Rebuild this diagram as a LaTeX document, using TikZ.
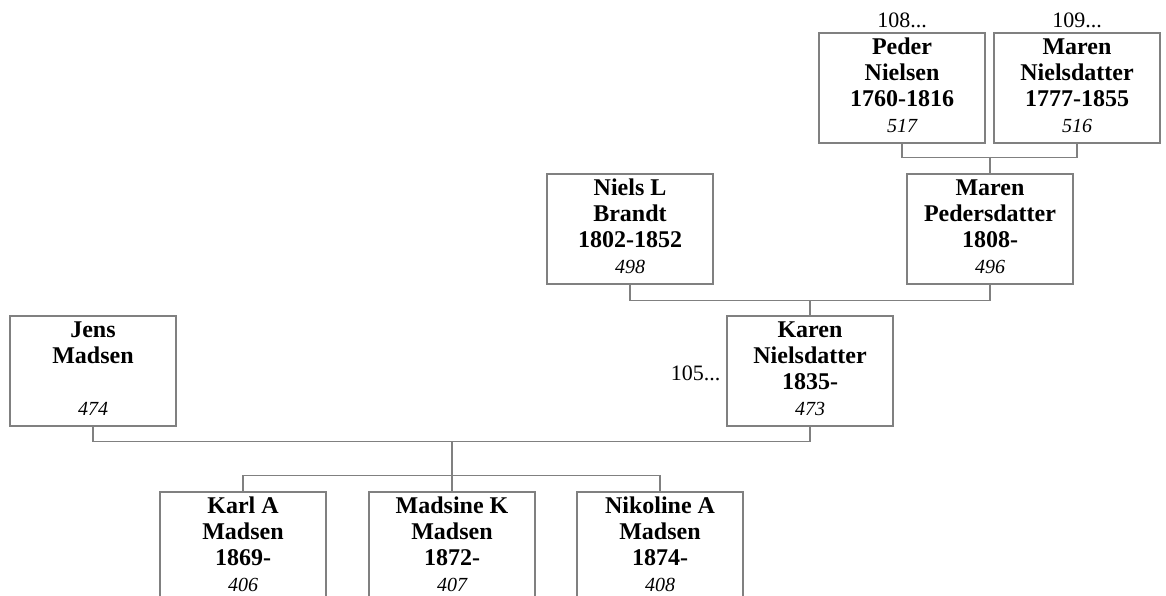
\documentclass[tikz,border=0pt]{standalone}
\usepackage{fontspec}
\setmainfont{Liberation Serif}
\begin{document}
\begin{tikzpicture}[x=1pt,y=-1pt,
  pbox/.style={draw=black!50,line width=1.1pt,minimum width=166pt,minimum height=110pt,inner sep=0pt,fill=white},
  conn/.style={draw=black!50,line width=1.1pt},
  bl/.style={font=\fontsize{24}{26}\selectfont\bfseries,inner sep=0pt,anchor=base},
  nm/.style={font=\fontsize{20}{22}\selectfont\itshape,inner sep=0pt,anchor=base},
  ref/.style={font=\fontsize{22}{24}\selectfont,inner sep=0pt}]
\useasboundingbox (0,0) rectangle (1166,596);
\clip (0,0) rectangle (1166,596);
\newcommand\personbox[6]{%
  \node[pbox] (#1) at (#2) {};
  \node[bl] (#1-a) at ([yshift=-22pt]#1.north) {#3};
  \node[bl] (#1-b) at ([yshift=-48pt]#1.north) {#4};
  \node[bl] (#1-c) at ([yshift=-74pt]#1.north) {#5};
  \node[nm] (#1-d) at ([yshift=-100pt]#1.north) {#6};
}
% boxes
\personbox{peder}{902,88}{Peder}{Nielsen}{1760-1816}{517}
\personbox{marenN}{1077,88}{Maren}{Nielsdatter}{1777-1855}{516}
\personbox{niels}{630,229}{Niels L}{Brandt}{1802-1852}{498}
\personbox{marenP}{990,229}{Maren}{Pedersdatter}{1808-}{496}
\node[pbox] (jens) at (93,371) {};
\node[bl] (jens-a) at ([yshift=-22pt]jens.north) {Jens};
\node[bl] (jens-b) at ([yshift=-48pt]jens.north) {Madsen};
\node[nm] (jens-d) at ([yshift=-100pt]jens.north) {474};
\personbox{karen}{810,371}{Karen}{Nielsdatter}{1835-}{473}
\personbox{karl}{243,547}{Karl A}{Madsen}{1869-}{406}
\personbox{madsine}{452,547}{Madsine K}{Madsen}{1872-}{407}
\personbox{nikoline}{660,547}{Nikoline A}{Madsen}{1874-}{408}
% reference labels
\node[ref,anchor=base] (r108) at ([yshift=5pt]peder.north) {108...};
\node[ref,anchor=base] (r109) at ([yshift=5pt]marenN.north) {109...};
\node[ref,anchor=east] (r105) at ([xshift=-6pt,yshift=-2pt]karen.west) {105...};
% connectors
\draw[conn] (peder.south) -- ++(0,14) -| (marenN.south);
\coordinate (f1) at (990,157);
\draw[conn] (f1) -- (marenP.north);
\draw[conn] (niels.south) -- ++(0,16) -| (marenP.south);
\coordinate (f2) at (810,300);
\draw[conn] (f2) -- (karen.north);
\draw[conn] (jens.south) -- ++(0,15) -| (karen.south);
\coordinate (f3) at (452,441);
\draw[conn] (f3) -- (madsine.north);
\draw[conn] (karl.north) -- ++(0,-16) -| (nikoline.north);
\end{tikzpicture}
\end{document}
